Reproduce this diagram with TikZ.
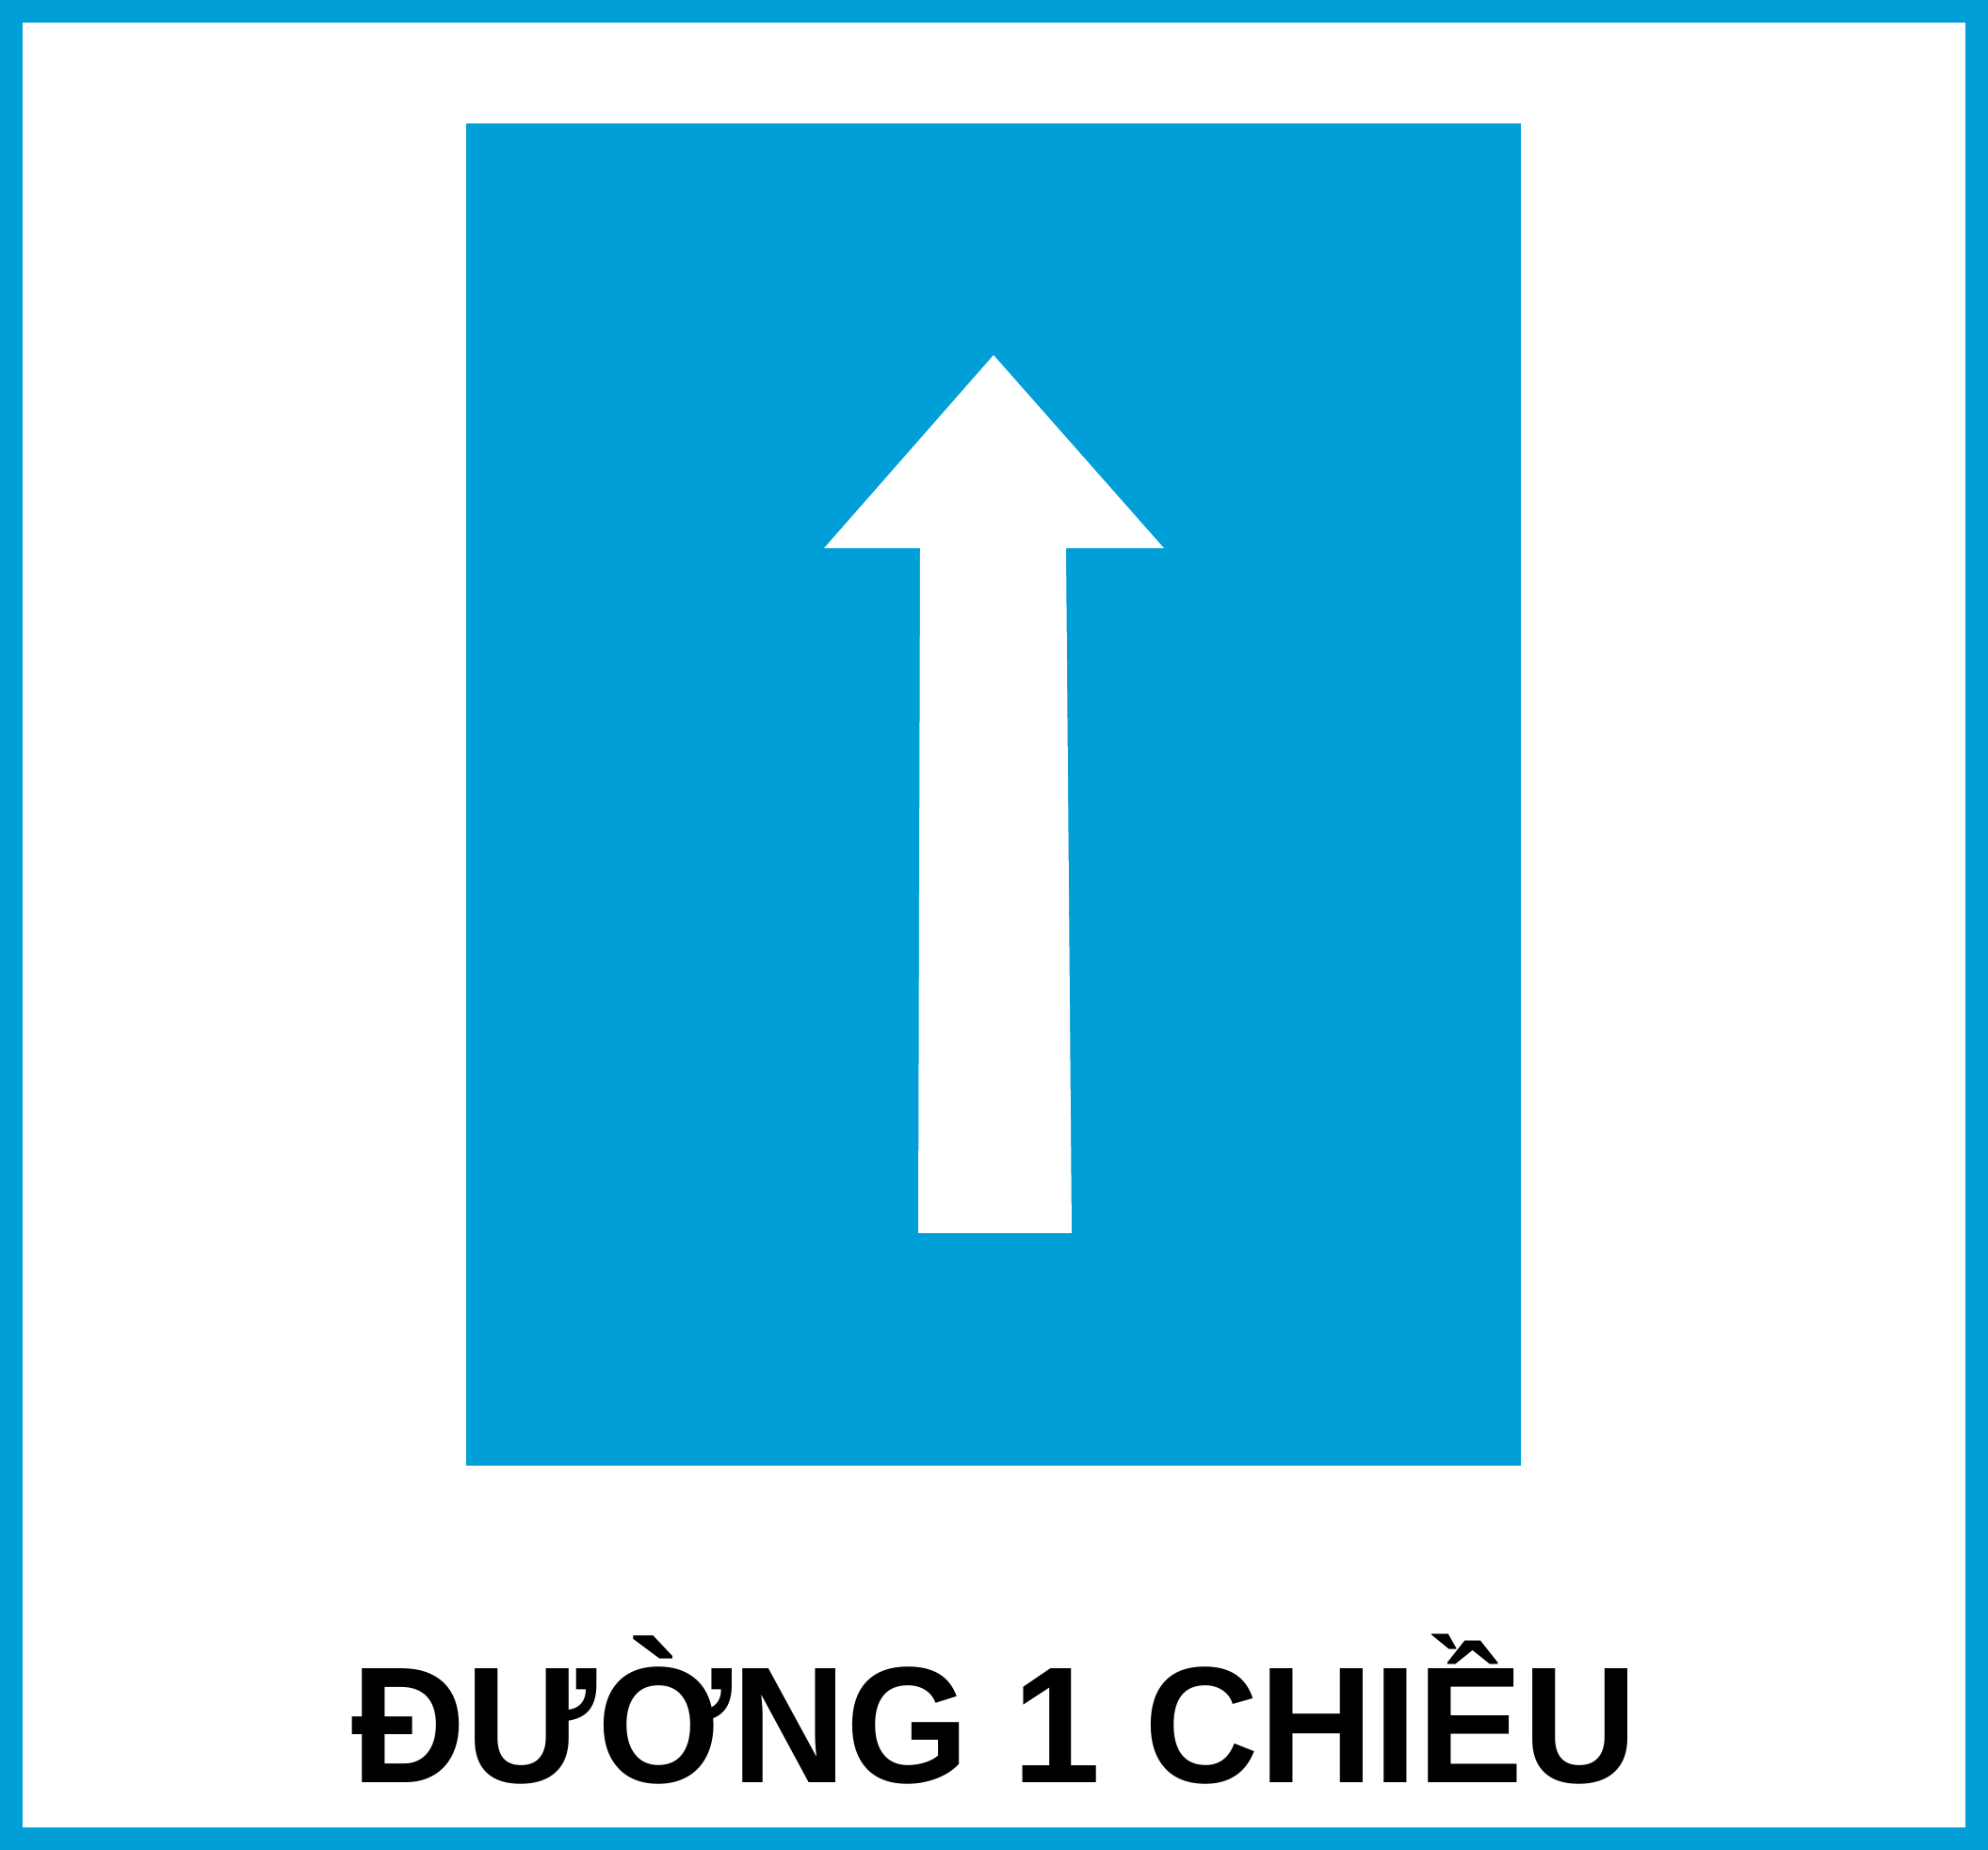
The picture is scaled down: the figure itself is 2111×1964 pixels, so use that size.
\documentclass[tikz,border=0pt]{standalone}
\usepackage{fontspec}
\setmainfont{Liberation Sans}
\definecolor{signblue}{RGB}{0,159,215}
\begin{document}
\begin{tikzpicture}[x=0.01cm, y=-0.01cm]
\useasboundingbox (0,0) rectangle (2111,1964);
\fill[signblue] (0,0) rectangle (2111,1964);
\fill[white] (24,24) rectangle (2087,1940);
\fill[signblue] (495,131) rectangle (1615,1556);
\fill[white] (1055,377) -- (1236,582) -- (1132,582) -- (1138,1309) -- (975,1309) -- (977,582) -- (875,582) -- cycle;
\node[anchor=base, inner sep=0pt, xscale=0.955, font=\fontsize{50}{52}\selectfont\bfseries] (label) at (1056,1892) {ĐƯỜNG 1 CHIỀU};
\end{tikzpicture}
\end{document}
